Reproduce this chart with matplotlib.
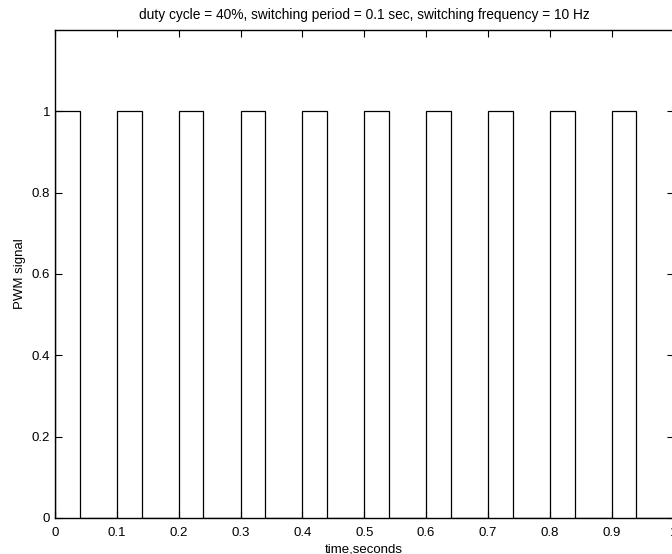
import matplotlib
matplotlib.use("Agg")
import matplotlib.pyplot as plt

# PWM edges (seconds)
rise_times = [0.0, 0.1, 0.2, 0.3, 0.4, 0.5, 0.6, 0.7, 0.8, 0.9]
fall_times = [0.04, 0.14, 0.24, 0.34, 0.44, 0.54, 0.64, 0.74, 0.84, 0.94]
high_level = 1
low_level = 0
t_end = 1.0

xticks = [0, 0.1, 0.2, 0.3, 0.4, 0.5, 0.6, 0.7, 0.8, 0.9, 1]
xticklabels = ["0", "0.1", "0.2", "0.3", "0.4", "0.5", "0.6", "0.7", "0.8", "0.9", "1"]
yticks = [0, 0.2, 0.4, 0.6, 0.8, 1]
yticklabels = ["0", "0.2", "0.4", "0.6", "0.8", "1"]

plt.rcParams['font.family'] = ['Liberation Sans', 'DejaVu Sans']

# build the step path from the edges
xs, ys = [], []
for r, f in zip(rise_times, fall_times):
    xs += [r, r, f, f]
    ys += [low_level, high_level, high_level, low_level]
xs.append(t_end)
ys.append(low_level)

W, H = 672, 554
fig = plt.figure(figsize=(W / 100, H / 100), dpi=100)
left, right, bottom, top = 55, 673.5, 518, 30
ax = fig.add_axes([left / W, 1 - bottom / H, (right - left) / W, (bottom - top) / H])

ax.plot(xs, ys, color='black', lw=0.9, solid_joinstyle='miter')
ax.set_xlim(0, 1)
ax.set_ylim(0, 1.2)
ax.set_xticks(xticks)
ax.set_xticklabels(xticklabels)
ax.set_yticks(yticks)
ax.set_yticklabels(yticklabels)
ax.tick_params(direction='in', length=5, width=0.8, top=True, right=True,
               labelsize=9.5)
ax.tick_params(axis='x', pad=6.5)
ax.tick_params(axis='y', pad=3.5)
for s in ax.spines.values():
    s.set_linewidth(1.0)

ax.set_title("duty cycle = 40%, switching period = 0.1 sec, switching frequency = 10 Hz",
             fontsize=9.9, pad=8)
ax.set_xlabel("time,seconds", fontsize=9.5, labelpad=3)
ax.set_ylabel("PWM signal", fontsize=9.5, labelpad=4)

fig.savefig("out.png", dpi=100)
